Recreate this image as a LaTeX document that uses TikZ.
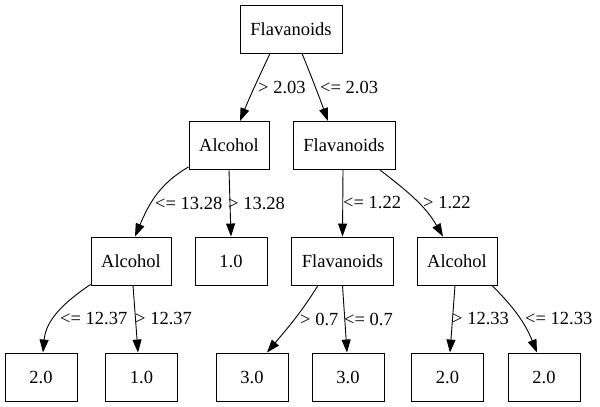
\documentclass[tikz,border=0pt]{standalone}
\usepackage{fontspec}
\setmainfont{Liberation Serif}
\usetikzlibrary{arrows.meta}

\begin{document}
\begin{tikzpicture}[x=1pt, y=1pt,
    box/.style={draw, line width=0.9pt, inner sep=0pt, minimum height=48pt, font=\fontsize{18.5}{22}\selectfont},
    leaf/.style={box, minimum width=72pt},
    edge/.style={line width=0.9pt, -{Triangle[length=13pt,width=9pt]}},
    lbl/.style={anchor=west, inner sep=0pt, font=\fontsize{18.5}{22}\selectfont}]
    \useasboundingbox (0,0) rectangle (600,-407);

    \node[box, minimum width=102pt] (root) at (291,-29) {Flavanoids};

    \node[box, minimum width=80pt] (alcA) at (229,-145.5) {Alcohol};
    \node[box, minimum width=102pt] (flavA) at (344,-145.5) {Flavanoids};

    \node[box, minimum width=80pt] (alcB) at (131,-261) {Alcohol};
    \node[leaf] (leafA) at (231,-261) {1.0};
    \node[box, minimum width=102pt] (flavB) at (342.5,-261) {Flavanoids};
    \node[box, minimum width=80pt] (alcC) at (457,-261) {Alcohol};

    \node[leaf] (leafB) at (41,-377) {2.0};
    \node[leaf] (leafC) at (141.5,-377) {1.0};
    \node[leaf] (leafD) at (252,-377) {3.0};
    \node[leaf] (leafE) at (348,-377) {3.0};
    \node[leaf] (leafF) at (447.5,-377) {2.0};
    \node[leaf] (leafG) at (544,-377) {2.0};

    \draw[edge] ([xshift=-21pt]root.south) to[out=-115, in=68] ([xshift=11pt]alcA.north);
    \draw[edge] ([xshift=11pt]root.south) to[out=-68, in=110] ([xshift=-16pt]flavA.north);

    \draw[edge] ([yshift=3pt]alcA.south west) to[out=-150, in=67] ([xshift=4pt]alcB.north);
    \draw[edge] (alcA.south) -- (leafA.north);
    \draw[edge] ([xshift=-1pt]flavA.south) -- (flavB.north);
    \draw[edge] ([xshift=36pt]flavA.south) to[out=-38, in=120] ([xshift=-14pt]alcC.north);

    \draw[edge] ([yshift=1pt]alcB.south west) to[out=-146, in=85] ([xshift=2pt]leafB.north);
    \draw[edge] ([xshift=2pt]alcB.south) -- ([xshift=-3.5pt]leafC.north);
    \draw[edge] ([xshift=-24.5pt]flavB.south) to[out=-122, in=50] ([xshift=15pt]leafD.north);
    \draw[edge] (flavB.south) -- ([xshift=-1pt]leafE.north);
    \draw[edge] ([xshift=-2pt]alcC.south) -- ([xshift=2.5pt]leafF.north);
    \draw[edge] ([xshift=35pt]alcC.south) to[out=-45, in=112] ([xshift=-7pt]leafG.north);

    \node[lbl] (gtA) at (258,-87) {> 2.03};
    \node[lbl] (leA) at (320,-87) {<= 2.03};
    \node[lbl] (leB) at (155,-203) {<= 13.28};
    \node[lbl] (gtB) at (228,-203) {> 13.28};
    \node[lbl] (leC) at (343,-203) {<= 1.22};
    \node[lbl] (gtC) at (423,-203) {> 1.22};
    \node[lbl] (leD) at (60,-319) {<= 12.37};
    \node[lbl] (gtD) at (135,-319) {> 12.37};
    \node[lbl] (gtE) at (300,-319) {> 0.7};
    \node[lbl] (leE) at (344,-319) {<= 0.7};
    \node[lbl] (gtF) at (452,-319) {> 12.33};
    \node[lbl] (leF) at (525,-319) {<= 12.33};
\end{tikzpicture}
\end{document}
